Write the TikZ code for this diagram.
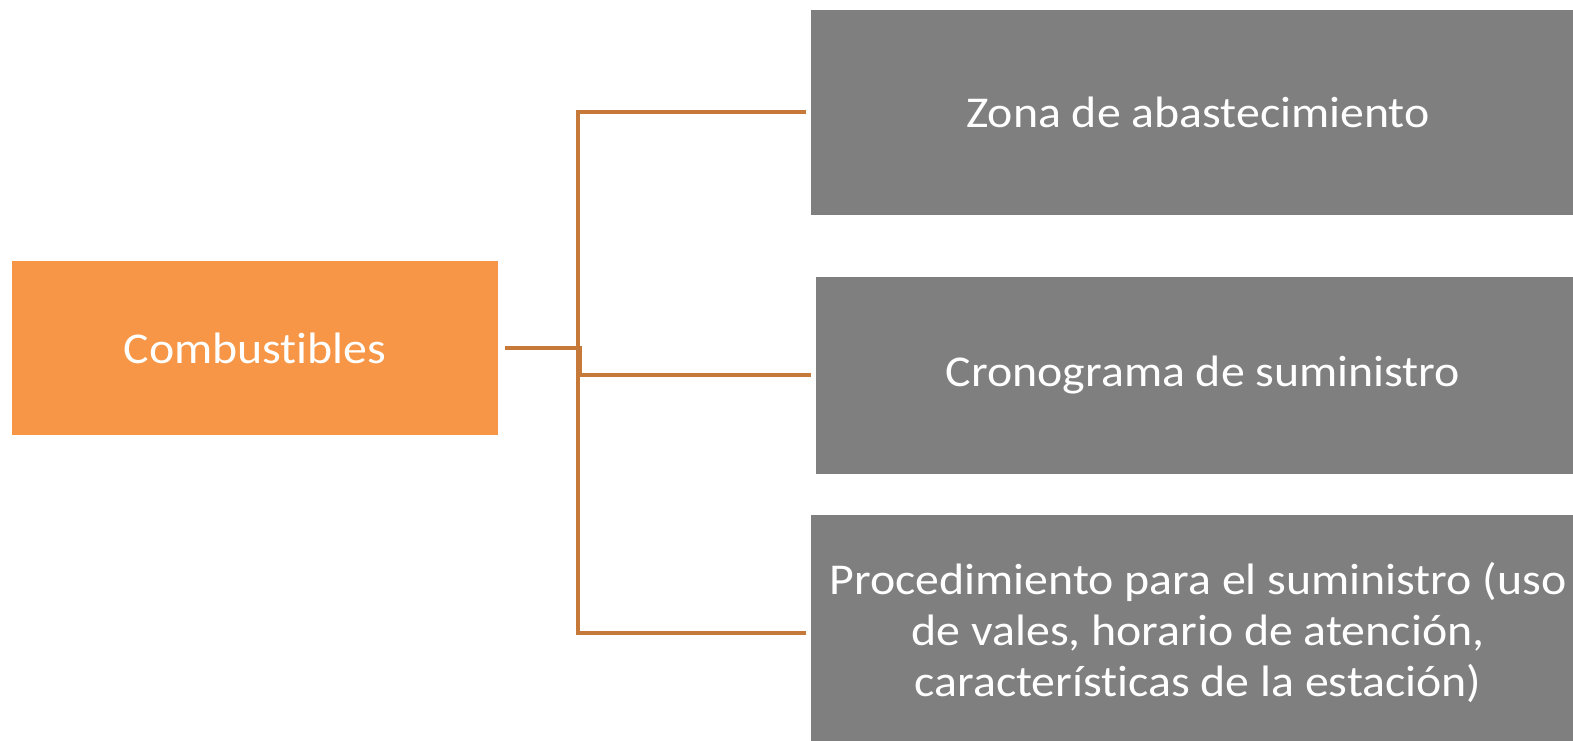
\documentclass[tikz,border=0pt]{standalone}
\usepackage{fontspec}
\setmainfont{Carlito}[Ligatures=NoCommon, FakeStretch=1.087]
\definecolor{boxorange}{RGB}{247,150,70}
\definecolor{boxgray}{RGB}{127,127,127}
\definecolor{connorange}{RGB}{199,121,57}
\begin{document}
\begin{tikzpicture}[x=1pt,y=-1pt,
  mainbox/.style={fill=boxorange, draw=none, text=white, minimum width=486pt, minimum height=174pt, inner sep=0pt, font=\fontsize{44}{51}\selectfont},
  itembox/.style={fill=boxgray, draw=none, text=white, minimum width=774pt, inner sep=0pt, align=center, font=\fontsize{44}{51}\selectfont},
  conn/.style={draw=connorange, line width=4.5pt}]
\useasboundingbox (0,0) rectangle (1573,741);
\clip (0,0) rectangle (1573,741);
\fill[white] (0,0) rectangle (1573,741);
\node[mainbox] (comb) at (255,348) {Combustibles};
\node[itembox, minimum height=205pt] (z1) at (1198,112.5) {Zona de abastecimiento};
\node[itembox, minimum height=197pt] (z2) at (1203,375.5) {Cronograma de suministro};
\node[itembox, minimum height=234pt] (z3) at (1198,632) {Procedimiento para el suministro (uso\\de vales, horario de atención,\\características de la estación)};
\coordinate (jA) at (578,348);
\coordinate (jB) at (580,348);
\draw[conn] ([xshift=7pt]comb.east) -- (jA) |- ([xshift=-5pt,yshift=0.5pt]z1.west);
\draw[conn] ([xshift=7pt]comb.east) -- (jA) |- ([xshift=-5pt,yshift=-1pt]z3.west);
\draw[conn] (jA) -- (jB) |- ([xshift=-5pt,yshift=0.5pt]z2.west);
\end{tikzpicture}
\end{document}
